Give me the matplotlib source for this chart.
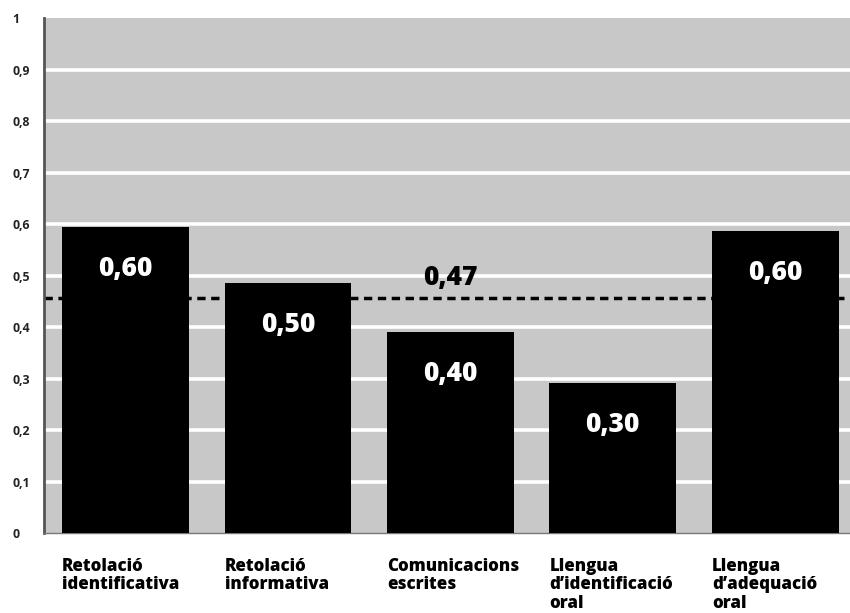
"""Gràfic de barres: índexs per categoria."""

import matplotlib.pyplot as plt
import matplotlib.transforms as mtransforms

plt.rcParams["font.family"] = ["Open Sans", "DejaVu Sans"]

categories = [
    "Retolació\nidentificativa",
    "Retolació\ninformativa",
    "Comunicacions\nescrites",
    "Llengua\nd\u2019identificació\noral",
    "Llengua\nd\u2019adequació\noral",
]
values = [0.594, 0.486, 0.39, 0.292, 0.587]
value_labels = ["0,60", "0,50", "0,40", "0,30", "0,60"]
mean_value = 0.457
mean_label = "0,47"
y_ticks = [0, 0.1, 0.2, 0.3, 0.4, 0.5, 0.6, 0.7, 0.8, 0.9, 1.0]
y_tick_labels = ["0", "0,1", "0,2", "0,3", "0,4", "0,5", "0,6", "0,7", "0,8", "0,9", "1"]

fig = plt.figure(figsize=(8.5, 6.13), dpi=100)
ax = fig.add_axes([0.052, 0.1305, 0.948, 0.8401])
ax.set_facecolor("#c8c8c8")

x = list(range(len(categories)))
bar_width = 0.78
ax.bar(x, values, width=bar_width, color="black", zorder=3)

ax.set_xlim(-0.5, 4.46)
ax.set_ylim(0, 1)

# líneas blancas de la retícula
for yv in y_ticks[1:-1]:
    ax.axhline(yv, color="white", lw=2.6, zorder=1)

# media
ax.axhline(mean_value, color="black", lw=2.5, ls=(0, (2.4, 1.6)), zorder=2)
ax.text(2, mean_value + 0.012, mean_label, ha="center", va="bottom",
        fontsize=19, fontweight="heavy", color="black", zorder=4)

for xi, v, lab in zip(x, values, value_labels):
    ax.text(xi, v - 0.082, lab, ha="center", va="center",
            fontsize=19, fontweight="heavy", color="white", zorder=4)

trans = mtransforms.blended_transform_factory(ax.transData, ax.transAxes)
for xi, cat in zip(x, categories):
    ax.text(xi - bar_width / 2, -0.048, cat, transform=trans, ha="left",
            va="top", fontsize=12.2, fontweight="heavy", color="black",
            linespacing=1.12, clip_on=False)

ax.set_xticks([])
ax.set_yticks(y_ticks)
ax.set_yticklabels(y_tick_labels, fontsize=8.8, fontweight="bold",
                   color="#222222")
ax.tick_params(axis="y", length=0, pad=23)
for lbl in ax.get_yticklabels():
    lbl.set_horizontalalignment("left")

for side in ["top", "right"]:
    ax.spines[side].set_visible(False)
ax.spines["left"].set_color("#555555")
ax.spines["left"].set_linewidth(2)
ax.spines["bottom"].set_color("#777777")
ax.spines["bottom"].set_linewidth(1)

fig.savefig("out.png", dpi=100)
